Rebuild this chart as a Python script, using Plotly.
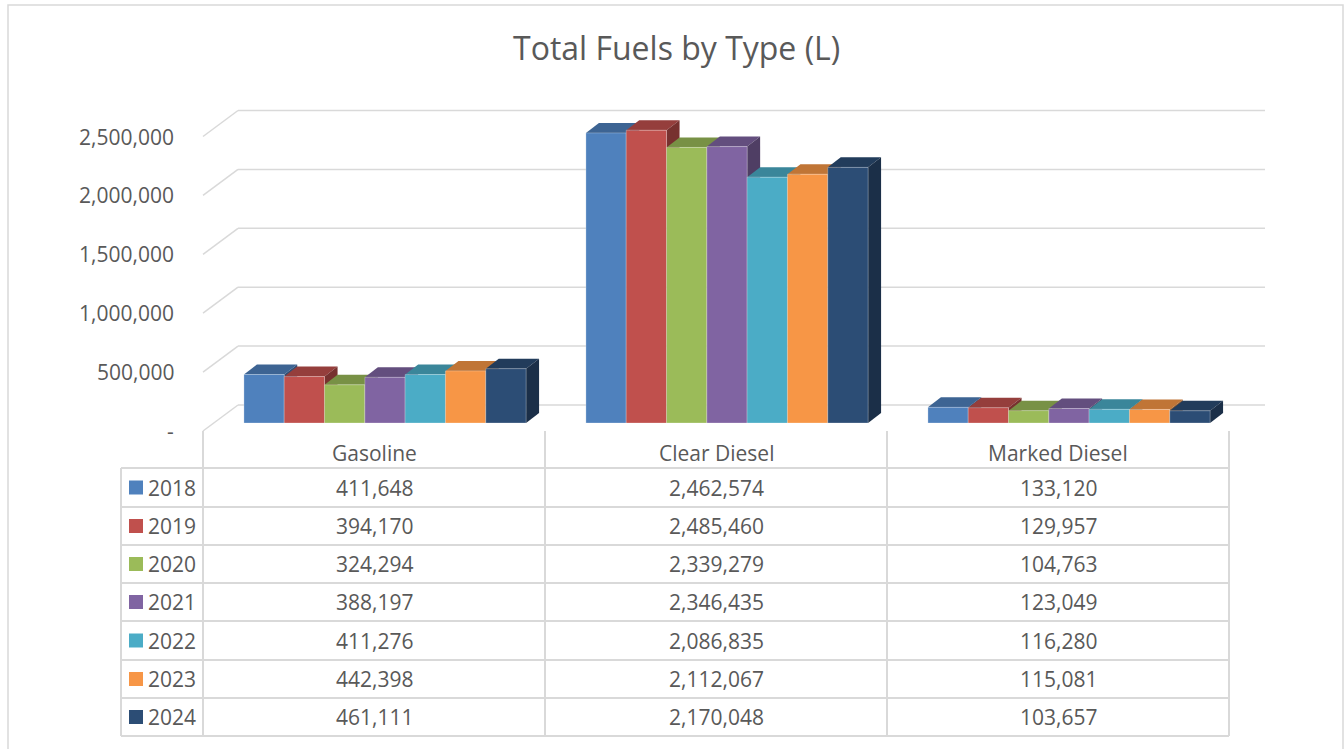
import plotly.graph_objects as go

# ---------------- data ----------------
categories = ["Gasoline", "Clear Diesel", "Marked Diesel"]
years = ["2018", "2019", "2020", "2021", "2022", "2023", "2024"]
gasoline = [411648, 394170, 324294, 388197, 411276, 442398, 461111]
clear_diesel = [2462574, 2485460, 2339279, 2346435, 2086835, 2112067, 2170048]
marked_diesel = [133120, 129957, 104763, 123049, 116280, 115081, 103657]
y_ticks = [0, 500000, 1000000, 1500000, 2000000, 2500000]
y_tick_labels = ["-", "500,000", "1,000,000", "1,500,000", "2,000,000", "2,500,000"]
colors = ["#4F81BD", "#C0504D", "#9BBB59", "#8064A2", "#4BACC6", "#F79646", "#2C4D75"]
title = "Total Fuels by Type (L)"

# ---------------- geometry ----------------
W, H = 1344, 749
X0_PX, X_UNIT_PX = 385, 342          # pixel of category 0, pixels per category
Y0_PX, Y_PX_PER = 423, 117.8 / 1e6   # pixel of value 0, pixels per unit value
DX_PX, DY_PX = 13, 10                # 3D depth offset
GROUP = 0.825
BW = GROUP / len(years)
TEXT = "#595959"
GRID = "#D9D9D9"
FONT = "Open Sans"
FS = 21

dxv = DX_PX / X_UNIT_PX
dyv = DY_PX / Y_PX_PER
xrange_ = [-X0_PX / X_UNIT_PX, (W - X0_PX) / X_UNIT_PX]
yrange_ = [-(H - Y0_PX) / Y_PX_PER, Y0_PX / Y_PX_PER]


def shade(hexc, f):
    r, g, b = int(hexc[1:3], 16), int(hexc[3:5], 16), int(hexc[5:7], 16)
    return "rgb(%d,%d,%d)" % (r * f, g * f, b * f)


def py(p):
    return 1 - p / H


def px(p):
    return p / W


series = [[gasoline[j], clear_diesel[j], marked_diesel[j]] for j in range(len(years))]

fig = go.Figure()
for j, yr in enumerate(years):
    fig.add_trace(go.Bar(
        x=list(range(len(categories))), y=series[j], name=yr,
        width=BW, offset=-GROUP / 2 + j * BW,
        marker=dict(color=colors[j], line=dict(width=0.6, color="rgba(255,255,255,0.45)")),
        showlegend=False,
        hovertemplate="%{y:,}<extra>" + yr + "</extra>",
    ))

shapes = []
# back-wall gridlines + floor diagonals
for v in y_ticks:
    back = v + 18 / Y_PX_PER
    front = v - 8 / Y_PX_PER
    shapes.append(dict(type="line", xref="paper", yref="y", x0=px(238), x1=px(1265),
                       y0=back, y1=back, line=dict(color=GRID, width=1.5), layer="below"))
    shapes.append(dict(type="line", xref="paper", yref="y", x0=px(203), x1=px(238),
                       y0=front, y1=back, line=dict(color=GRID, width=1.5), layer="below"))

# 3D top and side faces of bars
for c in range(len(categories)):
    for j in range(len(years)):
        v = series[j][c]
        xl = c - GROUP / 2 + j * BW
        xr = xl + BW
        top = "M %f,%f L %f,%f L %f,%f L %f,%f Z" % (xl, v, xr, v, xr + dxv, v + dyv, xl + dxv, v + dyv)
        side = "M %f,%f L %f,%f L %f,%f L %f,%f Z" % (xr, 0, xr, v, xr + dxv, v + dyv, xr + dxv, dyv)
        shapes.append(dict(type="path", xref="x", yref="y", path=top,
                           fillcolor=shade(colors[j], 0.78), line=dict(width=0), layer="below"))
        shapes.append(dict(type="path", xref="x", yref="y", path=side,
                           fillcolor=shade(colors[j], 0.62), line=dict(width=0), layer="below"))

# chart border (bottom edge lies outside the view)
shapes.append(dict(type="rect", xref="paper", yref="paper", x0=px(8), x1=px(1343),
                   y0=py(760), y1=py(5), line=dict(color=GRID, width=1.5)))

# data table
col_x = [203, 545, 887, 1229]
row_lines = [468, 507, 545, 583, 621, 660, 698, 736]
for xv in col_x:
    shapes.append(dict(type="line", xref="paper", yref="paper", x0=px(xv), x1=px(xv),
                       y0=py(431), y1=py(736), line=dict(color=GRID, width=2)))
shapes.append(dict(type="line", xref="paper", yref="paper", x0=px(121), x1=px(121),
                   y0=py(468), y1=py(736), line=dict(color=GRID, width=2)))
for yv in row_lines:
    shapes.append(dict(type="line", xref="paper", yref="paper", x0=px(121), x1=px(1229),
                       y0=py(yv), y1=py(yv), line=dict(color=GRID, width=2)))

annotations = []
annotations.append(dict(text=title, x=px(676), y=py(48), xref="paper", yref="paper",
                        showarrow=False, font=dict(family=FONT, size=32, color=TEXT),
                        xanchor="center", yanchor="middle"))
for v, lab in zip(y_ticks, y_tick_labels):
    annotations.append(dict(text=lab, x=px(176), y=v - 8 / Y_PX_PER, xref="paper", yref="y",
                            showarrow=False, font=dict(family=FONT, size=FS, color=TEXT),
                            xanchor="right", yanchor="middle"))
for c, cat in enumerate(categories):
    cx = (col_x[c] + col_x[c + 1]) / 2
    annotations.append(dict(text=cat, x=px(cx), y=py(453), xref="paper", yref="paper",
                            showarrow=False, font=dict(family=FONT, size=FS, color=TEXT),
                            xanchor="center", yanchor="middle"))
for j, yr in enumerate(years):
    ry = (row_lines[j] + row_lines[j + 1]) / 2
    shapes.append(dict(type="rect", xref="paper", yref="paper", x0=px(129), x1=px(143),
                       y0=py(ry + 7), y1=py(ry - 7), fillcolor=colors[j], line=dict(width=0)))
    annotations.append(dict(text=yr, x=px(146), y=py(ry), xref="paper", yref="paper",
                            showarrow=False, font=dict(family=FONT, size=FS, color=TEXT),
                            xanchor="left", yanchor="middle"))
    for c in range(len(categories)):
        cx = (col_x[c] + col_x[c + 1]) / 2
        annotations.append(dict(text=f"{series[j][c]:,}", x=px(cx), y=py(ry), xref="paper", yref="paper",
                                showarrow=False, font=dict(family=FONT, size=FS, color=TEXT),
                                xanchor="center", yanchor="middle"))

fig.update_layout(
    width=W, height=H,
    margin=dict(l=0, r=0, t=0, b=0),
    paper_bgcolor="white", plot_bgcolor="white",
    barmode="overlay",
    xaxis=dict(range=xrange_, domain=[0, 1], visible=False, fixedrange=True),
    yaxis=dict(range=yrange_, domain=[0, 1], visible=False, fixedrange=True),
    shapes=shapes, annotations=annotations,
    font=dict(family=FONT, color=TEXT),
)

fig.write_html("out.html", config={"displayModeBar": False},
               post_script="document.body.style.margin='0';document.body.style.overflow='hidden';")
